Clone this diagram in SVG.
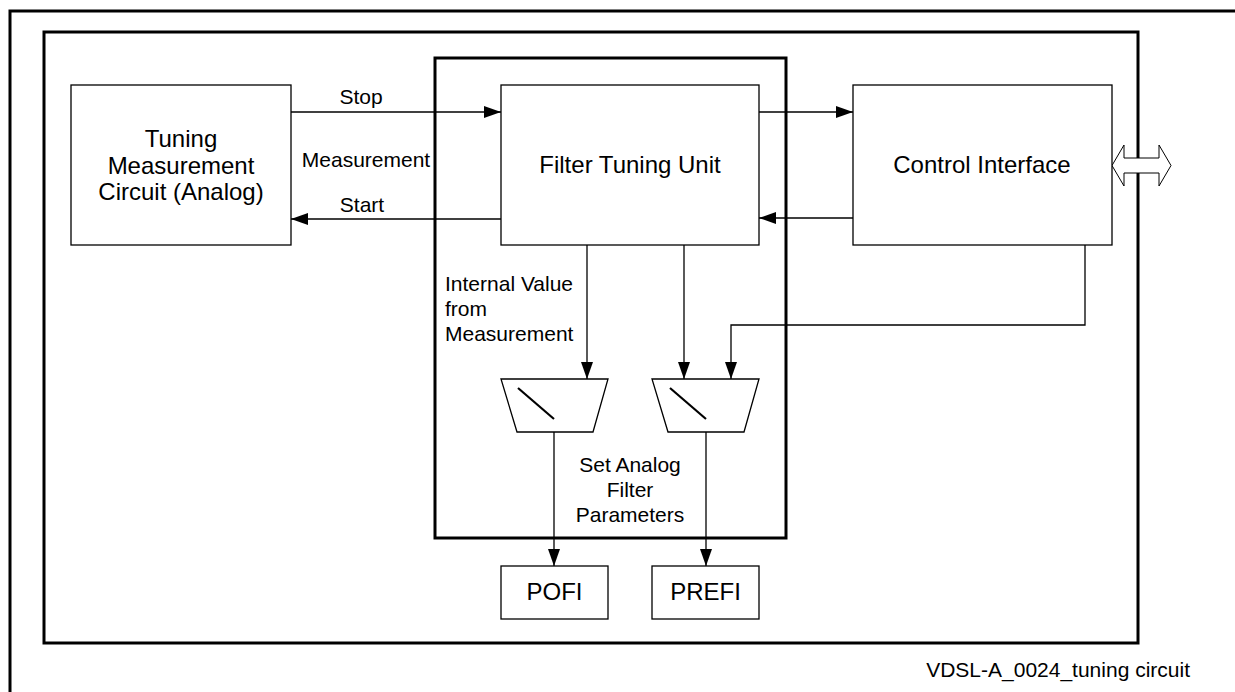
<svg xmlns="http://www.w3.org/2000/svg" width="1235" height="692" viewBox="0 0 1235 692">
<defs>
<style>
.frame{fill:none;stroke:#000;stroke-width:3}
.box{fill:#fff;stroke:#000;stroke-width:1.3}
.ln{fill:none;stroke:#000;stroke-width:1.3}
.big{font-family:"Liberation Sans",Arial,sans-serif;font-size:24px;fill:#000}
.sm{font-family:"Liberation Sans",Arial,sans-serif;font-size:21px;fill:#000}
.c{text-anchor:middle}
</style>
<marker id="ah" markerUnits="userSpaceOnUse" markerWidth="17" markerHeight="12" refX="17" refY="6" orient="auto">
<path d="M0,0 L17,6 L0,12 z" fill="#000"/>
</marker>
</defs>
<rect width="1235" height="692" fill="#fff"/>
<polyline class="frame" points="10,692 10,11 1235,11"/>
<rect class="frame" x="44" y="32" width="1094" height="611"/>
<rect class="frame" x="435" y="58" width="351" height="480"/>

<g id="connectors">
<line class="ln" x1="291" y1="112" x2="501" y2="112" marker-end="url(#ah)"/>
<line class="ln" x1="501" y1="219" x2="291" y2="219" marker-end="url(#ah)"/>
<line class="ln" x1="759" y1="112" x2="853" y2="112" marker-end="url(#ah)"/>
<line class="ln" x1="853" y1="218" x2="759" y2="218" marker-end="url(#ah)"/>
<line class="ln" x1="587" y1="245" x2="587" y2="379" marker-end="url(#ah)"/>
<line class="ln" x1="684" y1="245" x2="684" y2="379" marker-end="url(#ah)"/>
<polyline class="ln" points="1085,245 1085,325 731,325 731,379" marker-end="url(#ah)"/>
<line class="ln" x1="554" y1="432" x2="554" y2="566" marker-end="url(#ah)"/>
<line class="ln" x1="706" y1="432" x2="706" y2="566" marker-end="url(#ah)"/>
<path d="M1112,165.5 L1124,145 L1124,158 L1159,158 L1159,145 L1171,165.5 L1159,186 L1159,173 L1124,173 L1124,186 z" fill="#fff" stroke="#000" stroke-width="1"/>
</g>

<g id="tuning">
<rect class="box" x="71" y="85" width="220" height="160"/>
<text class="big c" x="181" y="147">Tuning</text>
<text class="big c" x="181" y="174">Measurement</text>
<text class="big c" x="181" y="200">Circuit (Analog)</text>
</g>

<g id="ftu">
<rect class="box" x="501" y="85" width="258" height="160"/>
<text class="big c" x="630" y="173">Filter Tuning Unit</text>
</g>

<g id="ci">
<rect class="box" x="853" y="85" width="259" height="160"/>
<text class="big c" x="982" y="173">Control Interface</text>
</g>

<g id="mux1">
<polygon class="box" points="501,379 608,379 593,432 517,432"/>
<line x1="518" y1="388" x2="554" y2="419" stroke="#000" stroke-width="2.2"/>
</g>
<g id="mux2">
<polygon class="box" points="652,379 759,379 744,432 668,432"/>
<line x1="670" y1="388" x2="706" y2="419" stroke="#000" stroke-width="2.2"/>
</g>

<g id="pofi">
<rect class="box" x="501" y="566" width="107" height="53"/>
<text class="big c" x="554.5" y="600">POFI</text>
</g>
<g id="prefi">
<rect class="box" x="652" y="566" width="107" height="53"/>
<text class="big c" x="705.5" y="600">PREFI</text>
</g>

<g id="labels">
<text class="sm c" x="361" y="104">Stop</text>
<text class="sm c" x="366" y="167">Measurement</text>
<text class="sm c" x="362" y="212">Start</text>
<text class="sm" x="445" y="291">Internal Value</text>
<text class="sm" x="445" y="316">from</text>
<text class="sm" x="445" y="341">Measurement</text>
<text class="sm c" x="630" y="472">Set Analog</text>
<text class="sm c" x="630" y="497">Filter</text>
<text class="sm c" x="630" y="522">Parameters</text>
<text class="sm" x="1190" y="677" text-anchor="end">VDSL-A_0024_tuning circuit</text>
</g>
</svg>
